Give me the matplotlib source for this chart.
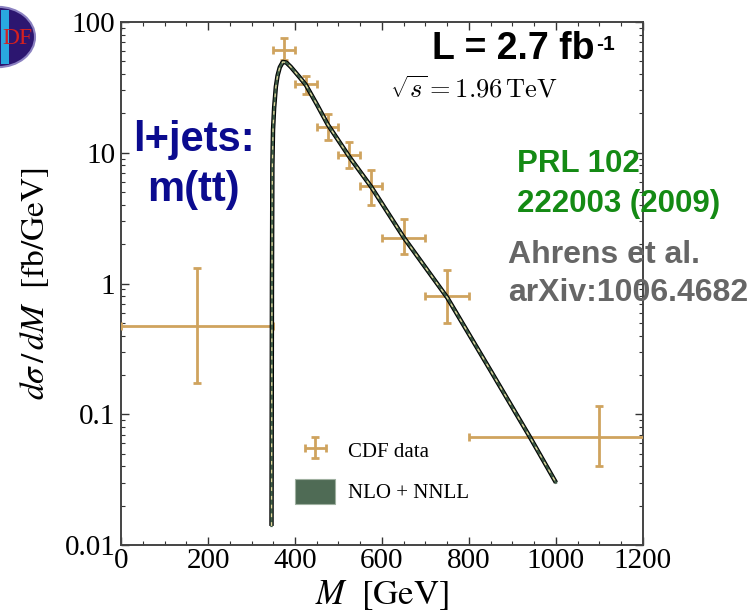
import matplotlib
matplotlib.use('Agg')
import matplotlib.pyplot as plt
from matplotlib.patches import Patch, Circle, Rectangle
from matplotlib.ticker import MultipleLocator, LogLocator, NullFormatter, FixedFormatter, FixedLocator

plt.rcParams['font.family'] = 'Liberation Serif'
plt.rcParams['mathtext.fontset'] = 'stix'

# CDF data (bin centre, half width, value, upper/lower error ends)
m_center = [175, 375, 425, 475, 525, 575, 650, 750, 1100]
m_half = [175, 25, 25, 25, 25, 25, 50, 50, 300]
cdf_xs = [0.47, 61, 33.6, 15.7, 9.6, 5.6, 2.23, 0.80, 0.067]
cdf_hi = [1.31, 75.5, 38.6, 19.9, 12.1, 7.4, 3.1, 1.27, 0.116]
cdf_lo = [0.173, 51, 28, 12.5, 7.6, 4.0, 1.68, 0.50, 0.040]

# NLO + NNLL prediction
nlo_m = [346, 347, 348, 349.5, 352, 356, 360, 365, 372, 380, 390, 410, 425,
         450, 475, 525, 575, 650, 750, 850, 940, 1000]
nlo_xs = [0.014, 1.0, 8.0, 15, 22, 32, 39, 45, 49.5, 49, 45.5, 38, 33,
          23.5, 16.5, 9.3, 5.5, 2.25, 0.78, 0.215, 0.067, 0.030]

y_ticks = [0.01, 0.1, 1, 10, 100]
y_labels = ['0.01', '0.1', '1', '10', '100']

GOLD = '#cfa35e'

fig = plt.figure(figsize=(7.53, 6.13), dpi=100, facecolor='white')
ax = fig.add_axes([0.1607, 0.1109, 0.6932, 0.8532])

yerr = [[v - lo for v, lo in zip(cdf_xs, cdf_lo)],
        [hi - v for v, hi in zip(cdf_xs, cdf_hi)]]
eb = ax.errorbar(m_center, cdf_xs, xerr=m_half, yerr=yerr, fmt='none',
                 ecolor=GOLD, elinewidth=2.0, capsize=3, capthick=2.0, zorder=3)

# theory band: dark outline, green fill, light dashed centre
ax.plot(nlo_m, nlo_xs, color='black', lw=3.2, zorder=4, solid_capstyle='butt')
ax.plot(nlo_m, nlo_xs, color='#3f5c47', lw=1.7, zorder=5)
ax.plot(nlo_m, nlo_xs, color='#e4d89c', lw=0.9, dashes=(3, 4), zorder=6)

ax.set_yscale('log')
ax.set_xlim(0, 1200)
ax.set_ylim(0.01, 100)
ax.xaxis.set_major_locator(MultipleLocator(200))
ax.xaxis.set_minor_locator(MultipleLocator(50))
ax.yaxis.set_major_locator(FixedLocator(y_ticks))
ax.yaxis.set_major_formatter(FixedFormatter(y_labels))
ax.yaxis.set_minor_locator(LogLocator(base=10, subs=range(2, 10)))
ax.yaxis.set_minor_formatter(NullFormatter())
ax.tick_params(which='both', direction='in', top=True, right=True,
               labelsize=21, colors='#333333', labelcolor='black')
ax.tick_params(which='major', length=6, width=1.0)
ax.tick_params(which='minor', length=3, width=0.8)
ax.tick_params(axis='x', pad=2)
ax.tick_params(axis='y', pad=4)
for s in ax.spines.values():
    s.set_color('#444444')
    s.set_linewidth(1.4)

ax.set_xlabel(r'$M\ \ [\mathrm{GeV}]$', fontsize=25, labelpad=3)
ax.set_ylabel(r'$d\sigma\,/\,dM\ \ [\mathrm{fb/GeV}]$', fontsize=24, labelpad=10)

handles = [eb, Patch(facecolor='#4f6b55', edgecolor='#9fb0a0', lw=0.8)]
ax.legend(handles, ['CDF data', 'NLO + NNLL'], loc='upper left',
          bbox_to_anchor=(0.333, 0.205), frameon=False, fontsize=15,
          handlelength=1.95, handleheight=1.5, handletextpad=0.6,
          labelspacing=0.75, borderpad=0, borderaxespad=0)

# slide annotations
lum = fig.text(0.574, 0.92, 'L = 2.7 fb', fontsize=27, fontweight='bold',
               family='Liberation Sans', va='center', zorder=10)
ax.annotate('-1', xy=(1.0, 0.88), xycoords=lum, fontsize=15, fontweight='bold',
            family='Liberation Sans', va='top', ha='left',
            xytext=(1, 0), textcoords='offset points')
fig.text(0.518, 0.855, r'$\sqrt{s} = 1.96\,\mathrm{TeV}$', fontsize=19, va='center',
         math_fontfamily='cm')
fig.text(0.257, 0.772, 'l+jets:', fontsize=30, fontweight='bold', color='#0b0b8f',
         family='Liberation Sans', ha='center', va='center')
fig.text(0.257, 0.69, 'm(tt)', fontsize=30, fontweight='bold', color='#0b0b8f',
         family='Liberation Sans', ha='center', va='center')
fig.text(0.686, 0.733, 'PRL 102', fontsize=22.5, fontweight='bold', color='#148a14',
         family='Liberation Sans', va='center', zorder=10)
fig.text(0.686, 0.668, '222003 (2009)', fontsize=22.5, fontweight='bold', color='#148a14',
         family='Liberation Sans', va='center', zorder=10)
fig.text(0.675, 0.584, 'Ahrens et al.', fontsize=23, fontweight='bold', color='#666666',
         family='Liberation Sans', va='center', zorder=10)
fig.text(0.675, 0.522, 'arXiv:1006.4682', fontsize=23, fontweight='bold', color='#666666',
         family='Liberation Sans', va='center', zorder=10)

# partial CDF logo in the corner
fw, fh = 753, 613
logo = Circle((-2 / fw, 1 - 37 / fh), 37 / fw, transform=fig.transFigure,
              facecolor='#2c1670', edgecolor='#8a80c0', lw=1.5, zorder=1)
fig.patches.append(logo)
fig.patches.append(Rectangle((1 / fw, 1 - 64 / fh), 8 / fw, 54 / fh, transform=fig.transFigure,
                             facecolor='#29a8e0', edgecolor='none', zorder=2))
fig.text(2 / fw, 1 - 38 / fh, 'DF', fontsize=17, color='#d42020',
         va='center', ha='left', zorder=3)

fig.savefig('out.png', dpi=100)
